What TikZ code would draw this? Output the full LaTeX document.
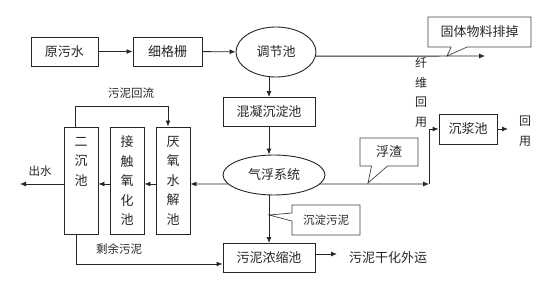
\documentclass[tikz,border=0pt]{standalone}
\usepackage{fontspec}
\setmainfont{Noto Sans CJK SC}
\usetikzlibrary{arrows.meta,positioning,shapes.geometric,shapes.callouts,calc}

\begin{document}
\begin{tikzpicture}[
  x=1pt, y=-1pt,
  font=\fontsize{13}{15}\selectfont,
  every node/.style={text=black!85},
  box/.style={draw=black!85, line width=0.9pt, minimum height=29pt, inner sep=2pt},
  tallbox/.style={draw=black!85, line width=0.9pt, minimum width=34pt, minimum height=107pt, align=center, font=\fontsize{13}{19.5}\selectfont},
  pool/.style={draw=black!85, ellipse, line width=0.9pt, inner sep=0pt},
  flow/.style={-{Latex[length=6pt,width=5pt]}, line width=0.9pt, draw=black!85},
  line/.style={line width=0.9pt, draw=black!85},
  note/.style={font=\fontsize{11.5}{13}\selectfont},
  vnote/.style={align=center, font=\fontsize{12}{19.7}\selectfont},
  bubble/.style={rectangle callout, draw=black!75, line width=0.7pt, inner sep=2pt}
]
\useasboundingbox (0,0) rectangle (550,294);

% main line
\node[box, minimum width=67pt] (raw) at (64.5,51.5) {原污水};
\node[box, minimum width=69pt] (screen) at (167.5,51.5) {细格栅};
\node[pool, minimum width=80pt, minimum height=50pt] (equal) at (276,52) {调节池};
\node[box, minimum width=92pt] (coag) at (269,112) {混凝沉淀池};
\node[pool, minimum width=102pt, minimum height=40pt] (flot) at (274,175) {气浮系统};
\node[box, minimum width=92pt] (thick) at (269,258) {污泥浓缩池};
\node (dryout) at (388,258) {污泥干化外运};

% biological tanks
\node[tallbox] (anaer) at (173,180.5) {厌\\氧\\水\\解\\池};
\node[tallbox] (contact) at (127,180.5) {接\\触\\氧\\化\\池};
\node[tallbox] (sec) at (81,180.5) {二\\沉\\池\\~\\~};

% recovery branch
\node[box, minimum width=58pt, minimum height=30pt] (slurry) at (468,129) {沉浆池};
\node[vnote] (fiber) at (421,92.5) {纤\\维\\回\\用};
\node[vnote] (reuse) at (525,131) {回\\用};

% callouts
\node[bubble, minimum width=103pt, minimum height=30pt, callout absolute pointer={(447,56)}, callout pointer width=16pt] (solid) at (479.5,32) {固体物料排掉};
\node[bubble, minimum width=58pt, minimum height=28pt, callout absolute pointer={(368,183)}, callout pointer width=16pt] (scum) at (389,152) {浮渣};
\node[bubble, note, minimum width=68pt, minimum height=30pt, callout absolute pointer={(269,215)}, callout pointer width=8pt] (sludge) at (326,220) {沉淀污泥};

\coordinate (solidout) at (485,56);
\coordinate (fr) at (429,184);
\coordinate (lvl) at (0,184);
\coordinate (out) at (20,184);
\coordinate (dry) at (337,254);
\coordinate (reuseout) at (508,129);

\draw[flow] (raw) -- (screen);
\draw[flow] (screen) -- (equal);
\draw[flow] (equal.-6) -- (solidout);
\draw[flow] (coag.north |- equal.south) -- (coag.north);
\draw[flow] (coag.south) -- (coag.south |- flot.north);
\draw[flow] (thick.north |- flot.south) -- (thick.north);
\draw[flow] ([yshift=4pt]thick.east) -- (dry);

\draw[flow] (flot.-11) -- (fr);
\draw[flow] (fr) |- (slurry.west);
\draw[flow] (slurry.east) -- (reuseout);

\draw[flow] (flot.191) -- (anaer.east |- lvl);
\draw[flow] (anaer.west |- lvl) -- (contact.east |- lvl);
\draw[flow] (contact.west |- lvl) -- (sec.east |- lvl);
\draw[flow] (sec.west |- lvl) -- (out);
\node[note] (outlbl) at (40,171) {出水};

\draw[flow] ([xshift=-6pt]sec.north) -- ++(0,-20) -| ([xshift=-5pt]anaer.north);
\node[note] (retlbl) at (131,93) {污泥回流};

\draw[flow] ([xshift=-5pt]sec.south) |- ([yshift=-6pt]thick.west);
\node[note] (exlbl) at (119,249) {剩余污泥};

\end{tikzpicture}
\end{document}
